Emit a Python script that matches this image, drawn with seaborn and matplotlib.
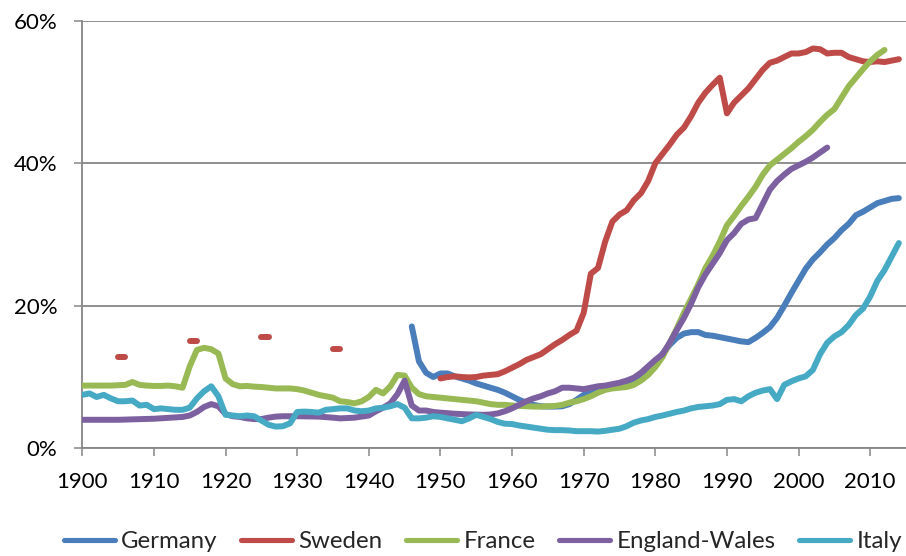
import matplotlib
matplotlib.use("Agg")
import matplotlib.pyplot as plt
from matplotlib.lines import Line2D
import seaborn as sns
import pandas as pd

# ---------------- data (percent) ----------------
germany_years = [1946, 1947, 1948, 1949, 1950, 1951, 1952, 1953, 1954, 1955, 1956, 1957, 1958, 1959,
                 1960, 1961, 1962, 1963, 1964, 1965, 1966, 1967, 1968, 1969, 1970, 1971, 1972, 1974,
                 1976, 1978, 1980, 1982, 1983, 1984, 1985, 1986, 1987, 1988, 1989, 1990, 1991, 1992,
                 1993, 1994, 1995, 1996, 1997, 1998, 1999, 2000, 2001, 2002, 2003, 2004, 2005, 2006,
                 2007, 2008, 2009, 2010, 2011, 2012, 2013, 2014]
germany_vals = [17.1, 12.2, 10.6, 10.0, 10.5, 10.5, 10.1, 9.8, 9.5, 9.1, 8.8, 8.5, 8.2, 7.8,
                7.3, 6.8, 6.4, 6.1, 5.9, 5.85, 5.85, 5.9, 6.2, 6.8, 7.5, 8.1, 8.4, 8.8,
                9.3, 10.2, 12.0, 14.5, 15.5, 16.1, 16.3, 16.3, 15.9, 15.8, 15.6, 15.4, 15.2, 15.0,
                14.9, 15.5, 16.2, 17.0, 18.3, 20.0, 21.8, 23.5, 25.2, 26.5, 27.5, 28.6, 29.5, 30.6,
                31.5, 32.7, 33.2, 33.8, 34.4, 34.7, 35.0, 35.1]

# Sweden: isolated early observations (pairs of years) + continuous series from 1950
sweden_early_years = [[1905, 1906], [1915, 1916], [1925, 1926], [1935, 1936]]
sweden_early_vals = [[12.8, 12.8], [15.1, 15.1], [15.55, 15.55], [14.0, 14.0]]
sweden_years = list(range(1950, 2015))
sweden_vals = [9.8, 10.0, 10.1, 10.0, 9.95, 10.0, 10.2, 10.3, 10.4, 10.8,
               11.3, 11.8, 12.4, 12.8, 13.2, 13.9, 14.6, 15.2, 15.9, 16.5,
               19.0, 24.5, 25.3, 29.0, 31.8, 32.8, 33.4, 34.8, 35.8, 37.5,
               40.0, 41.3, 42.6, 44.0, 45.0, 46.6, 48.5, 49.9, 51.0, 52.0,
               47.0, 48.5, 49.5, 50.5, 51.8, 53.1, 54.1, 54.4, 54.9, 55.4,
               55.4, 55.6, 56.1, 56.0, 55.4, 55.5, 55.5, 54.9, 54.6, 54.3,
               54.2, 54.3, 54.2, 54.4, 54.6]

france_years = list(range(1900, 2013))
france_vals = [8.8, 8.8, 8.8, 8.8, 8.8, 8.85, 8.9, 9.3, 8.9, 8.8,
               8.75, 8.75, 8.8, 8.7, 8.5, 11.5, 13.8, 14.1, 13.9, 13.3,
               9.8, 9.0, 8.7, 8.75, 8.65, 8.6, 8.5, 8.4, 8.4, 8.4,
               8.3, 8.1, 7.8, 7.5, 7.3, 7.1, 6.6, 6.5, 6.3, 6.6,
               7.2, 8.2, 7.7, 8.7, 10.3, 10.2, 8.5, 7.6, 7.3, 7.2,
               7.1, 7.0, 6.9, 6.8, 6.7, 6.6, 6.4, 6.2, 6.1, 6.1,
               6.0, 5.95, 5.9, 5.85, 5.85, 5.9, 5.95, 6.1, 6.4, 6.6,
               6.9, 7.3, 7.8, 8.2, 8.4, 8.5, 8.6, 8.9, 9.5, 10.3,
               11.4, 12.8, 14.8, 16.8, 19.0, 21.0, 23.0, 25.3, 27.0, 29.0,
               31.3, 32.6, 34.0, 35.3, 36.7, 38.4, 39.7, 40.5, 41.3, 42.1,
               43.0, 43.8, 44.7, 45.8, 46.8, 47.6, 49.2, 50.8, 52.0, 53.2,
               54.3, 55.2, 55.9]

ew_years = [1900, 1905, 1910, 1914, 1915, 1916, 1917, 1918, 1919, 1920, 1921, 1922, 1923, 1924,
            1925, 1926, 1927, 1928, 1930, 1933, 1935, 1936, 1938, 1939, 1940, 1941, 1942, 1943,
            1944, 1945, 1946, 1947, 1948, 1949, 1950, 1952, 1954, 1956, 1957, 1958, 1959,
            1960, 1961, 1962, 1963, 1964, 1965, 1966, 1967, 1968, 1969, 1970, 1971, 1972, 1973,
            1974, 1975, 1976, 1977, 1978, 1979, 1980, 1981, 1982, 1983, 1984, 1985, 1986, 1987,
            1988, 1989, 1990, 1991, 1992, 1993, 1994, 1995, 1996, 1997, 1998, 1999, 2000, 2001,
            2002, 2003, 2004]
ew_vals = [4.0, 4.0, 4.15, 4.4, 4.6, 5.1, 5.8, 6.2, 5.9, 4.8, 4.5, 4.4, 4.2, 4.1,
           4.1, 4.3, 4.45, 4.5, 4.5, 4.45, 4.3, 4.2, 4.3, 4.45, 4.6, 5.2, 5.7, 6.3,
           7.6, 9.5, 6.0, 5.3, 5.3, 5.1, 5.0, 4.85, 4.75, 4.7, 4.75, 4.9, 5.2,
           5.6, 6.1, 6.6, 7.0, 7.3, 7.7, 8.0, 8.5, 8.5, 8.4, 8.3, 8.5, 8.7, 8.8,
           9.0, 9.2, 9.5, 9.9, 10.6, 11.5, 12.4, 13.2, 14.8, 16.6, 18.3, 20.3, 22.6, 24.4,
           25.9, 27.4, 29.2, 30.2, 31.5, 32.1, 32.3, 34.3, 36.3, 37.5, 38.4, 39.2, 39.7, 40.2,
           40.8, 41.5, 42.2]

italy_years = list(range(1900, 2015))
italy_vals = [7.5, 7.7, 7.2, 7.5, 7.0, 6.6, 6.6, 6.7, 6.0, 6.1,
              5.5, 5.6, 5.5, 5.4, 5.4, 5.7, 7.0, 8.0, 8.7, 7.3,
              4.7, 4.6, 4.5, 4.6, 4.5, 3.9, 3.3, 3.05, 3.1, 3.5,
              5.1, 5.15, 5.1, 5.0, 5.4, 5.5, 5.6, 5.6, 5.3, 5.2,
              5.3, 5.6, 5.7, 5.9, 6.2, 5.7, 4.2, 4.2, 4.3, 4.5,
              4.4, 4.2, 4.0, 3.8, 4.2, 4.7, 4.4, 4.1, 3.7, 3.45,
              3.4, 3.2, 3.05, 2.9, 2.75, 2.6, 2.55, 2.55, 2.5, 2.4,
              2.4, 2.4, 2.35, 2.45, 2.6, 2.75, 3.1, 3.6, 3.9, 4.1,
              4.4, 4.6, 4.85, 5.1, 5.3, 5.6, 5.8, 5.9, 6.0, 6.2,
              6.8, 6.9, 6.6, 7.3, 7.8, 8.1, 8.3, 6.9, 8.9, 9.4,
              9.8, 10.1, 11.0, 13.2, 14.8, 15.7, 16.3, 17.3, 18.7, 19.6,
              21.3, 23.5, 25.0, 26.9, 28.8]

labels = ["Germany", "Sweden", "France", "England-Wales", "Italy"]
colors = ["#4A7EBB", "#BE4B48", "#98B954", "#7D60A0", "#46AAC5"]
x_ticks = list(range(1900, 2011, 10))
y_ticks = [0, 20, 40, 60]

# ---------------- style ----------------
sns.set_theme(style="white")
plt.rcParams["font.family"] = ["Lato", "DejaVu Sans"]

grey = "#868686"
LW = 4.3

fig = plt.figure(figsize=(9.06, 5.56), dpi=100)
ax = fig.add_axes([82.3 / 906, 107.7 / 556, (906 - 82.3) / 906, (448.3 - 20.7) / 556])

kw = dict(linewidth=LW, solid_capstyle="round", solid_joinstyle="round",
          estimator=None, sort=False, legend=False, ax=ax)

sns.lineplot(x=germany_years, y=germany_vals, color=colors[0], **kw)
for yrs, vals in zip(sweden_early_years, sweden_early_vals):
    sns.lineplot(x=yrs, y=vals, color=colors[1], **kw)
sns.lineplot(x=sweden_years, y=sweden_vals, color=colors[1], **kw)
sns.lineplot(x=france_years, y=france_vals, color=colors[2], **kw)
sns.lineplot(x=ew_years, y=ew_vals, color=colors[3], **kw)
sns.lineplot(x=italy_years, y=italy_vals, color=colors[4], **kw)

ax.set_xlim(1900, 2015)
ax.set_ylim(0, 60)
ax.set_xticks(x_ticks)
ax.set_xticklabels([str(t) for t in x_ticks])
ax.set_yticks(y_ticks)
ax.set_yticklabels([f"{t}%" for t in y_ticks])
ax.set_xlabel("")
ax.set_ylabel("")

ax.yaxis.grid(True, color=grey, linewidth=1.3)
ax.xaxis.grid(False)
ax.set_axisbelow(True)
for s in ["top", "right"]:
    ax.spines[s].set_visible(False)
for s in ["left", "bottom"]:
    ax.spines[s].set_color(grey)
    ax.spines[s].set_linewidth(1.3)
    ax.spines[s].set_zorder(0.5)

ax.tick_params(axis="both", direction="out", length=6, width=1.1, color=grey,
               labelsize=16, labelcolor="black")
ax.tick_params(axis="y", pad=12)
ax.tick_params(axis="x", pad=11)
ax.tick_params(bottom=True, left=True)

handles = [Line2D([0], [0], color=c, lw=3.7, solid_capstyle="round") for c in colors]
fig.legend(handles, labels, loc="center", bbox_to_anchor=(0.533, 0.026), ncol=5,
           frameon=False, handlelength=2.12, handletextpad=0.25, columnspacing=1.0,
           fontsize=17.3)

fig.savefig("out.png", dpi=100)
